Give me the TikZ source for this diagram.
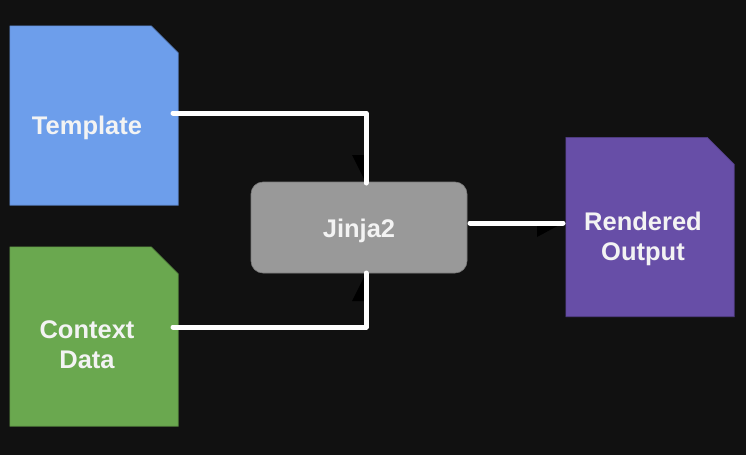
\documentclass[tikz,border=0pt]{standalone}
\usepackage{fontspec}
\setmainfont{Liberation Sans}
\usetikzlibrary{calc}
\definecolor{bg}{HTML}{111111}
\definecolor{tplblue}{HTML}{6D9EEB}
\definecolor{ctxgreen}{HTML}{6AA84F}
\definecolor{outpurple}{HTML}{674EA7}
\definecolor{jgray}{HTML}{999999}
\definecolor{txt}{HTML}{F3F3F3}
\tikzset{
  docbox/.style={rectangle, minimum width=168pt, minimum height=179pt, inner sep=0pt},
  lbl/.style={text=txt, font=\fontsize{25.5}{30}\selectfont\bfseries, align=center, inner sep=0pt},
  engine/.style={rounded corners=12pt, fill=jgray, draw=jgray!80!black, line width=0.6pt,
    minimum width=216pt, minimum height=91pt, inner sep=0pt},
  wire/.style={draw=white, line width=5pt, line cap=round, line join=round},
  tipshade/.style={fill=black},
}
\newcommand{\docshape}[2]{%
  \filldraw[fill=#2, draw=#2!80!black, line width=0.6pt]
    (#1.north west) -- ([xshift=-27pt]#1.north east) -- ([yshift=-27pt]#1.north east)
    -- (#1.south east) -- (#1.south west) -- cycle;}
\begin{document}
\begin{tikzpicture}[x=1pt,y=-1pt]
\fill[bg] (0,0) rectangle (746,455);
\useasboundingbox (0,0) rectangle (746,455);
\node[docbox] (tpl) at (94,115.5) {};
\node[docbox] (ctx) at (94,336.5) {};
\node[docbox] (out) at (650,227) {};
\docshape{tpl}{tplblue}
\docshape{ctx}{ctxgreen}
\docshape{out}{outpurple}
\node[engine] (jin) at (359,227.5) {};
\node[lbl] (tpltxt) at (87,127.5) {Template};
\node[lbl] (ctxtxt) at (87,345) {Context\\Data};
\node[lbl] (jintxt) at (359,231) {Jinja2};
\node[lbl] (outtxt) at (643,238.5) {Rendered\\Output};
\coordinate (c1) at (366,113);
\coordinate (c2) at (366,327);
\coordinate (s1) at (173,113);
\coordinate (s2) at (173,327);
\coordinate (s3) at (470,223);
\coordinate (e1) at (366,183);
\coordinate (e2) at (366,273);
\coordinate (e3) at (563,223);
% dark arrowhead shadows
\fill[tipshade] (e1) -- ($(e1)+(-14,-28)$) -- ($(e1)+(0,-28)$) -- cycle;
\fill[tipshade] (e2) -- ($(e2)+(-14,28)$) -- ($(e2)+(0,28)$) -- cycle;
\fill[tipshade] (e3) -- ($(e3)+(-26,14)$) -- ($(e3)+(-26,0)$) -- cycle;
% white wires
\draw[wire] (s1) -- (c1) -- (e1);
\draw[wire] (s2) -- (c2) -- (e2);
\draw[wire] (s3) -- (e3);
\end{tikzpicture}
\end{document}
